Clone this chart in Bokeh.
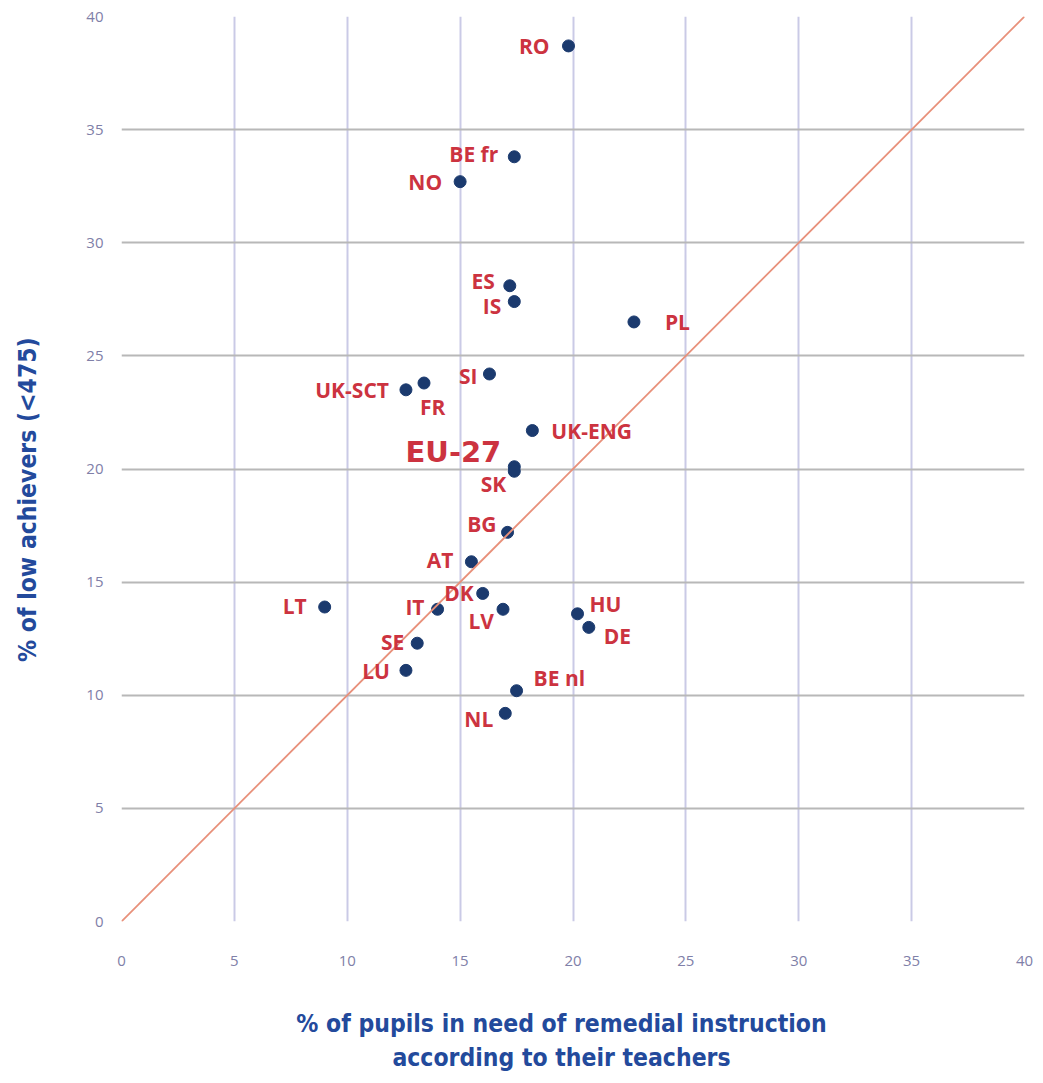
from bokeh.plotting import figure
from bokeh.models import ColumnDataSource, FixedTicker, LabelSet, Slope
from bokeh.core.properties import value
from bokeh.embed import file_html
from bokeh.resources import INLINE

# ---- data ----
countries = ["RO", "BE fr", "NO", "ES", "IS", "PL", "SI", "UK-SCT", "FR", "UK-ENG",
             "EU-27", "SK", "BG", "AT", "DK", "LT", "IT", "LV", "HU", "DE",
             "SE", "LU", "BE nl", "NL"]
remedial = [19.8, 17.4, 15.0, 17.2, 17.4, 22.7, 16.3, 12.6, 13.4, 18.2,
            17.4, 17.4, 17.1, 15.5, 16.0, 9.0, 14.0, 16.9, 20.2, 20.7,
            13.1, 12.6, 17.5, 17.0]
low_achievers = [38.7, 33.8, 32.7, 28.1, 27.4, 26.5, 24.2, 23.5, 23.8, 21.7,
                 20.1, 19.9, 17.2, 15.9, 14.5, 13.9, 13.8, 13.8, 13.6, 13.0,
                 12.3, 11.1, 10.2, 9.2]
tick_values = [0, 5, 10, 15, 20, 25, 30, 35, 40]
x_title_lines = ["% of pupils in need of remedial instruction", "according to their teachers"]
y_title = "% of low achievers (<475)"

# ---- label placement (layout only, screen px) ----
placement = {
    "RO": (-19, 0, "right"), "BE fr": (-16, -3, "right"), "NO": (-18, 0, "right"),
    "ES": (-15, -5, "right"), "IS": (-13, 4, "right"), "PL": (31, 0, "left"),
    "SI": (-12, 2, "right"), "UK-SCT": (-17, 0, "right"), "FR": (-4, 24, "left"),
    "UK-ENG": (19, 0, "left"), "EU-27": (-13, -15, "right"), "SK": (-8, 13, "right"),
    "BG": (-11, -8, "right"), "AT": (-18, -2, "right"), "DK": (-9, 0, "right"),
    "LT": (-18, -1, "right"), "IT": (-13, -2, "right"), "LV": (-9, 12, "right"),
    "HU": (12, -10, "left"), "DE": (15, 9, "left"), "SE": (-13, -1, "right"),
    "LU": (-16, 1, "right"), "BE nl": (17, -13, "left"), "NL": (-12, 6, "right"),
}

RED = "#cc3340"
NAVY = "#1b3a6e"
TITLE = "#234a9c"
TICK = "#8080a8"
NARROW = "'Liberation Sans Narrow', 'DejaVu Sans Condensed', sans-serif"
NBSP = "\u00a0"

p = figure(width=1035, height=1075, x_range=(0, 40), y_range=(0, 40),
           output_backend="svg", toolbar_location=None,
           min_border_left=121, min_border_right=11, min_border_top=16, min_border_bottom=154)
p.outline_line_color = None
p.background_fill_color = "white"

for ax in (p.xaxis[0], p.yaxis[0]):
    ax.ticker = FixedTicker(ticks=tick_values)
    ax.axis_line_color = None
    ax.major_tick_line_color = None
    ax.minor_tick_line_color = None
    ax.major_label_text_color = TICK
    ax.major_label_text_font = "'Open Sans', sans-serif"
    ax.major_label_text_font_size = "15px"
    ax.axis_label_text_color = TITLE
    ax.axis_label_text_font = NARROW
    ax.axis_label_text_font_style = "bold"
    ax.axis_label_text_font_size = "24.5px"

p.xaxis.major_label_standoff = 28
# trailing no-break spaces nudge the centred title slightly left, as in the reference
p.xaxis.axis_label = "\n".join(line + NBSP * 3 for line in x_title_lines)
p.xaxis.axis_label_standoff = 40
p.yaxis.major_label_standoff = 12
# trailing no-break spaces nudge the rotated title downward, as in the reference
p.yaxis.axis_label = y_title + NBSP * 8
p.yaxis.axis_label_standoff = 41

p.xgrid.grid_line_color = "#cacae6"
p.xgrid.grid_line_width = 2
p.ygrid.grid_line_color = "#b8b8b8"
p.ygrid.grid_line_width = 2

p.add_layout(Slope(gradient=1, y_intercept=0, line_color="#e8907a", line_width=1.8))

src = ColumnDataSource(dict(
    x=remedial, y=low_achievers, name=countries,
    xo=[placement[c][0] for c in countries],
    yo=[-placement[c][1] for c in countries],
    align=[placement[c][2] for c in countries],
))
p.scatter("x", "y", source=src, size=12, color=NAVY)

normal_idx = [i for i, c in enumerate(countries) if c != "EU-27"]
eu_idx = [countries.index("EU-27")]

def sub(idx):
    return ColumnDataSource({k: [src.data[k][i] for i in idx] for k in src.data})

p.add_layout(LabelSet(x="x", y="y", text="name", source=sub(normal_idx),
                      x_offset="xo", y_offset="yo", text_align="align",
                      text_baseline="middle", text_color=RED,
                      text_font=value("Open Sans"), text_font_style="bold",
                      text_font_size="21px"))
p.add_layout(LabelSet(x="x", y="y", text="name", source=sub(eu_idx),
                      x_offset="xo", y_offset="yo", text_align="align",
                      text_baseline="middle", text_color=RED,
                      text_font=value("DejaVu Sans"), text_font_style="bold",
                      text_font_size="29px"))

open("out.html", "w").write(file_html(p, INLINE))
